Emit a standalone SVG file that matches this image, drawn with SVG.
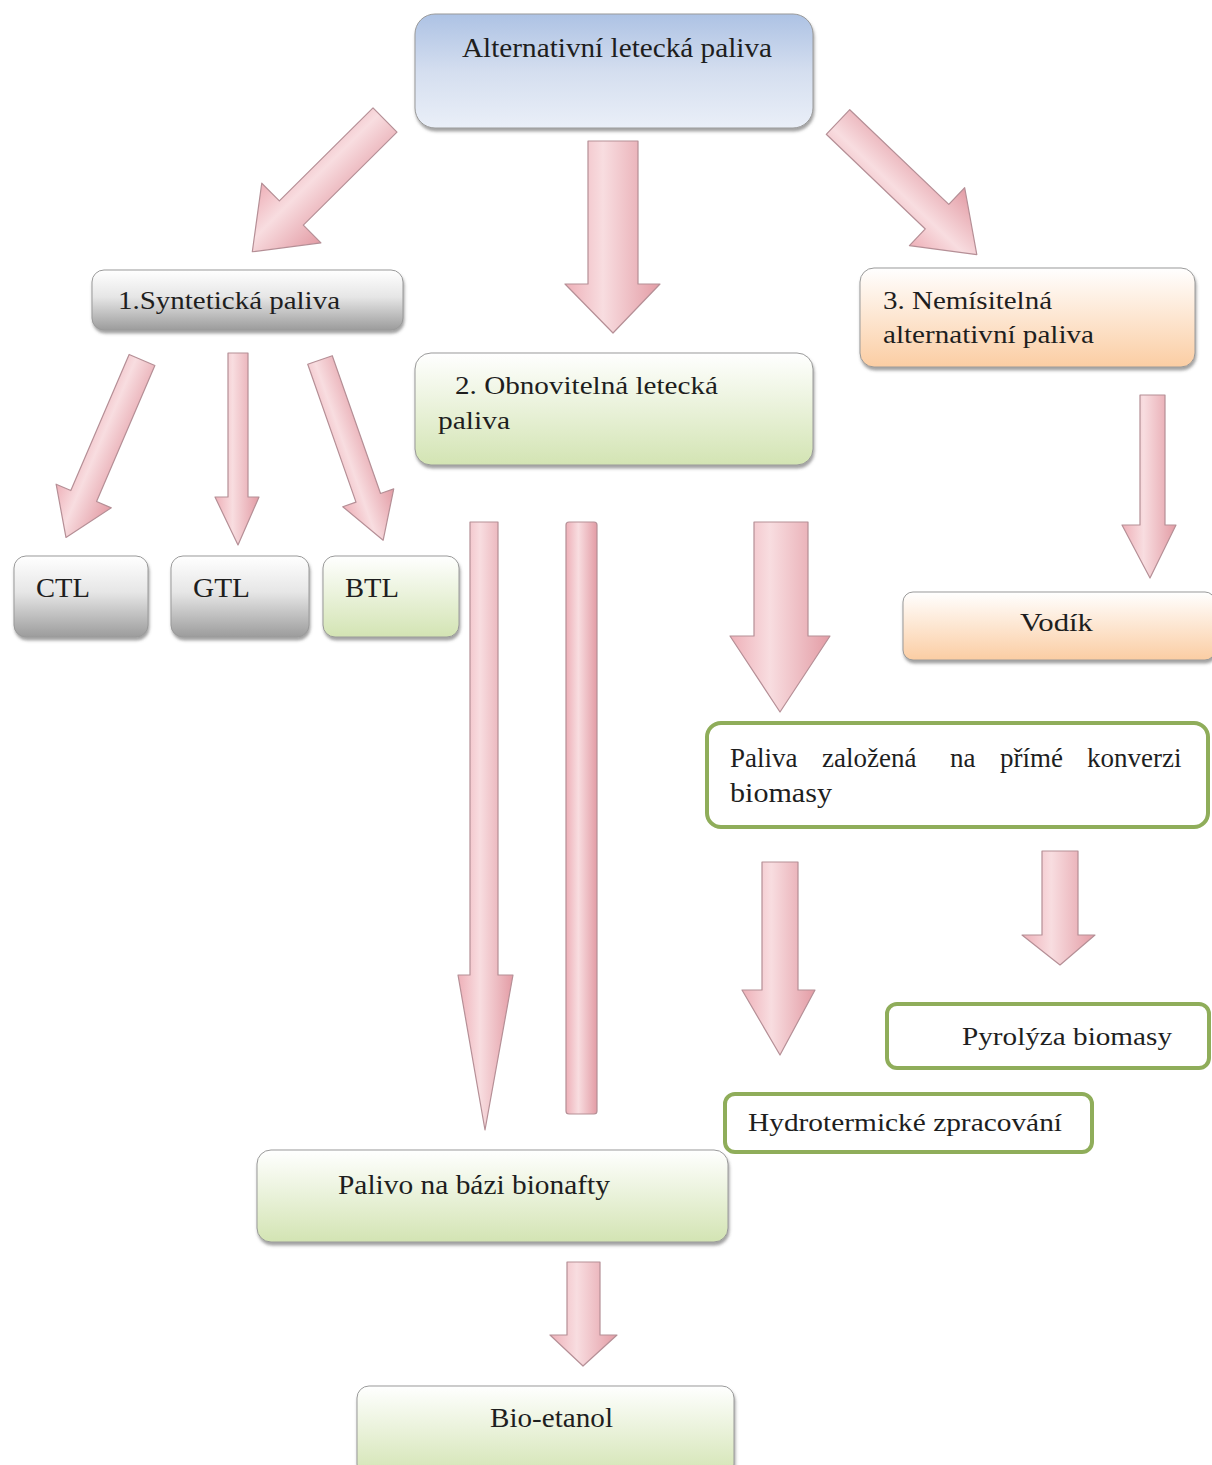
<svg xmlns="http://www.w3.org/2000/svg" width="1212" height="1465" viewBox="0 0 1212 1465">
<defs>
<linearGradient id="gBlue" x1="0" y1="0" x2="0" y2="1"><stop offset="0" stop-color="#adc2e4"/><stop offset="0.5" stop-color="#d4deef"/><stop offset="1" stop-color="#eaeff8"/></linearGradient>
<linearGradient id="gGray" x1="0" y1="0" x2="0" y2="1"><stop offset="0" stop-color="#ffffff"/><stop offset="0.45" stop-color="#e6e6e6"/><stop offset="1" stop-color="#9c9c9c"/></linearGradient>
<linearGradient id="gGreen" x1="0" y1="0" x2="0" y2="1"><stop offset="0" stop-color="#ffffff"/><stop offset="1" stop-color="#d3e4b3"/></linearGradient>
<linearGradient id="gOrange" x1="0" y1="0" x2="0" y2="1"><stop offset="0" stop-color="#ffffff"/><stop offset="1" stop-color="#fbcda3"/></linearGradient>
<linearGradient id="gArrow" x1="0" y1="0" x2="1" y2="0"><stop offset="0" stop-color="#eeb0b8"/><stop offset="0.4" stop-color="#f8dde0"/><stop offset="1" stop-color="#e39ca5"/></linearGradient>
<filter id="sh" x="-10%" y="-10%" width="120%" height="130%"><feDropShadow dx="1" dy="3" stdDeviation="1.5" flood-color="#555" flood-opacity="0.55"/></filter>
</defs>
<style>
.t{font-family:"Liberation Serif","Times New Roman",serif;fill:#1e1e1e;}
.box{stroke:#9a9a9a;stroke-width:1;filter:url(#sh);}
.ob{fill:#ffffff;stroke:#8fad5a;stroke-width:4;}
.ar{fill:url(#gArrow);stroke:#b58f96;stroke-width:1.2;stroke-linejoin:round;}
</style>
<rect width="1212" height="1465" fill="#ffffff"/>

<g id="connectors">
<path class="ar" transform="translate(385,120) rotate(45.2)" d="M -17 0 L 17 0 L 17 132 L 42 132 L 0 187 L -42 132 L -17 132 Z"/>
<path class="ar" d="M 588 141 L 638 141 L 638 284 L 660 284 L 613 333 L 565 284 L 588 284 Z"/>
<path class="ar" transform="translate(838,122) rotate(-46.3)" d="M -17 0 L 17 0 L 17 137 L 40 137 L 0 192 L -40 137 L -17 137 Z"/>
<path class="ar" transform="translate(142,360) rotate(23.2)" d="M -14 0 L 14 0 L 14 148 L 30 148 L 0 193 L -30 148 L -14 148 Z"/>
<path class="ar" d="M 228 353 L 248 353 L 248 497 L 259 497 L 238 545 L 215 497 L 228 497 Z"/>
<path class="ar" transform="translate(320,360) rotate(-19.3)" d="M -13 0 L 13 0 L 13 146 L 27 146 L 0 191 L -27 146 L -13 146 Z"/>
<path class="ar" d="M 470 522 L 498 522 L 498 975 L 513 975 L 485 1130 L 458 975 L 470 975 Z"/>
<rect class="ar" x="566" y="522" width="31" height="592" rx="3"/>
<path class="ar" d="M 754 522 L 808 522 L 808 636 L 830 636 L 780 712 L 730 636 L 754 636 Z"/>
<path class="ar" d="M 1140 395 L 1165 395 L 1165 525 L 1176 525 L 1150 578 L 1122 525 L 1140 525 Z"/>
<path class="ar" d="M 762 862 L 798 862 L 798 990 L 815 990 L 780 1055 L 742 990 L 762 990 Z"/>
<path class="ar" d="M 1042 851 L 1078 851 L 1078 935 L 1095 935 L 1060 965 L 1022 935 L 1042 935 Z"/>
<path class="ar" d="M 567 1262 L 600 1262 L 600 1335 L 617 1335 L 583 1366 L 550 1335 L 567 1335 Z"/>
</g>

<g id="n-top">
<rect class="box" x="415" y="14" width="398" height="114" rx="20" fill="url(#gBlue)"/>
<text class="t" x="462" y="57" font-size="28" textLength="310" lengthAdjust="spacingAndGlyphs">Alternativní letecká paliva</text>
</g>

<g id="n-synt">
<rect class="box" x="92" y="270" width="311" height="60" rx="12" fill="url(#gGray)"/>
<text class="t" x="118" y="309" font-size="26" textLength="222" lengthAdjust="spacingAndGlyphs">1.Syntetická paliva</text>
</g>

<g id="n-obnov">
<rect class="box" x="415" y="353" width="398" height="112" rx="16" fill="url(#gGreen)"/>
<text class="t" x="455" y="394" font-size="26" textLength="263" lengthAdjust="spacingAndGlyphs">2. Obnovitelná letecká</text>
<text class="t" x="438" y="429" font-size="26" textLength="72" lengthAdjust="spacingAndGlyphs">paliva</text>
</g>

<g id="n-nemis">
<rect class="box" x="860" y="268" width="335" height="99" rx="14" fill="url(#gOrange)"/>
<text class="t" x="883" y="309" font-size="25" textLength="169" lengthAdjust="spacingAndGlyphs">3. Nemísitelná</text>
<text class="t" x="883" y="343" font-size="25" textLength="211" lengthAdjust="spacingAndGlyphs">alternativní paliva</text>
</g>

<g id="n-ctl">
<rect class="box" x="14" y="556" width="134" height="81" rx="12" fill="url(#gGray)"/>
<text class="t" x="36" y="597" font-size="28" textLength="54" lengthAdjust="spacingAndGlyphs">CTL</text>
</g>

<g id="n-gtl">
<rect class="box" x="171" y="556" width="138" height="81" rx="12" fill="url(#gGray)"/>
<text class="t" x="193" y="597" font-size="28" textLength="57" lengthAdjust="spacingAndGlyphs">GTL</text>
</g>

<g id="n-btl">
<rect class="box" x="323" y="556" width="136" height="81" rx="12" fill="url(#gGreen)"/>
<text class="t" x="345" y="597" font-size="28" textLength="54" lengthAdjust="spacingAndGlyphs">BTL</text>
</g>

<g id="n-vodik">
<rect class="box" x="903" y="592" width="312" height="68" rx="10" fill="url(#gOrange)"/>
<text class="t" x="1020" y="631" font-size="26" textLength="73" lengthAdjust="spacingAndGlyphs">Vodík</text>
</g>

<g id="n-prime">
<rect class="ob" x="707" y="723" width="501" height="104" rx="14"/>
<text class="t" y="767" font-size="27"><tspan x="730">Paliva</tspan><tspan x="822">založená</tspan><tspan x="950">na</tspan><tspan x="1000">přímé</tspan><tspan x="1087">konverzi</tspan></text>
<text class="t" x="730" y="802" font-size="27" textLength="102" lengthAdjust="spacingAndGlyphs">biomasy</text>
</g>

<g id="n-pyro">
<rect class="ob" x="887" y="1004" width="322" height="64" rx="10"/>
<text class="t" x="962" y="1045" font-size="26" textLength="210" lengthAdjust="spacingAndGlyphs">Pyrolýza biomasy</text>
</g>

<g id="n-hydro">
<rect class="ob" x="725" y="1094" width="367" height="58" rx="10"/>
<text class="t" x="748" y="1131" font-size="26" textLength="314" lengthAdjust="spacingAndGlyphs">Hydrotermické zpracování</text>
</g>

<g id="n-bionafta">
<rect class="box" x="257" y="1150" width="471" height="92" rx="14" fill="url(#gGreen)"/>
<text class="t" x="338" y="1194" font-size="27" textLength="272" lengthAdjust="spacingAndGlyphs">Palivo na bázi bionafty</text>
</g>

<g id="n-etanol">
<rect class="box" x="357" y="1386" width="377" height="90" rx="12" fill="url(#gGreen)"/>
<text class="t" x="490" y="1427" font-size="27" textLength="123" lengthAdjust="spacingAndGlyphs">Bio-etanol</text>
</g>
</svg>
